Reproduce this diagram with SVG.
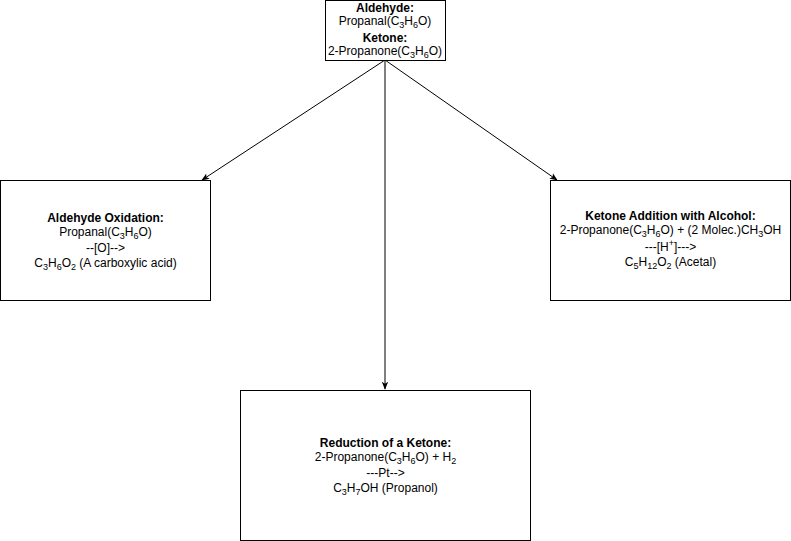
<svg xmlns="http://www.w3.org/2000/svg" width="791" height="541" viewBox="0 0 791 541">
<defs>
<style>
.box{fill:#fff;stroke:#000;stroke-width:1}
.t{font-family:"Liberation Sans",Arial,sans-serif;font-size:12px;fill:#000;text-anchor:middle}
.b{font-weight:bold}
.s{font-size:9px}
.edge{stroke:#000;stroke-width:1;fill:none}
</style>
<marker id="arr" viewBox="0 0 10 10" refX="9" refY="5" markerWidth="8" markerHeight="8" markerUnits="userSpaceOnUse" orient="auto">
<path d="M0,1 L10,5 L0,9 L2.5,5 Z" fill="#000"/>
</marker>
</defs>
<rect width="791" height="541" fill="#fff"/>
<g id="connectors">
<line class="edge" x1="385" y1="60" x2="202" y2="180" marker-end="url(#arr)"/>
<line class="edge" x1="385" y1="60" x2="385" y2="389" marker-end="url(#arr)"/>
<line class="edge" x1="385" y1="60" x2="557" y2="180" marker-end="url(#arr)"/>
</g>
<g id="top">
<rect class="box" x="325.5" y="0.5" width="120" height="60"/>
<text class="t b" x="385" y="12">Aldehyde:</text>
<text class="t" x="385" y="25">Propanal(C<tspan class="s" dy="3">3</tspan><tspan dy="-3">H</tspan><tspan class="s" dy="3">6</tspan><tspan dy="-3">O)</tspan></text>
<text class="t b" x="385" y="42">Ketone:</text>
<text class="t" x="385" y="55">2-Propanone(C<tspan class="s" dy="3">3</tspan><tspan dy="-3">H</tspan><tspan class="s" dy="3">6</tspan><tspan dy="-3">O)</tspan></text>
</g>
<g id="oxidation">
<rect class="box" x="0.5" y="180.5" width="210" height="120"/>
<text class="t b" x="105.5" y="222">Aldehyde Oxidation:</text>
<text class="t" x="105.5" y="236">Propanal(C<tspan class="s" dy="3">3</tspan><tspan dy="-3">H</tspan><tspan class="s" dy="3">6</tspan><tspan dy="-3">O)</tspan></text>
<text class="t" x="105.5" y="252">--[O]--&gt;</text>
<text class="t" x="105.5" y="267">C<tspan class="s" dy="3">3</tspan><tspan dy="-3">H</tspan><tspan class="s" dy="3">6</tspan><tspan dy="-3">O</tspan><tspan class="s" dy="3">2</tspan><tspan dy="-3"> (A carboxylic acid)</tspan></text>
</g>
<g id="addition">
<rect class="box" x="550.5" y="180.5" width="240" height="120"/>
<text class="t b" x="670.5" y="220">Ketone Addition with Alcohol:</text>
<text class="t" x="670.5" y="234">2-Propanone(C<tspan class="s" dy="3">3</tspan><tspan dy="-3">H</tspan><tspan class="s" dy="3">6</tspan><tspan dy="-3">O) + (2 Molec.)CH</tspan><tspan class="s" dy="3">3</tspan><tspan dy="-3">OH</tspan></text>
<text class="t" x="670.5" y="251">---[H<tspan class="s" dy="-5">+</tspan><tspan dy="5">]---&gt;</tspan></text>
<text class="t" x="670.5" y="266">C<tspan class="s" dy="3">5</tspan><tspan dy="-3">H</tspan><tspan class="s" dy="3">12</tspan><tspan dy="-3">O</tspan><tspan class="s" dy="3">2</tspan><tspan dy="-3"> (Acetal)</tspan></text>
</g>
<g id="reduction">
<rect class="box" x="240.5" y="390.5" width="290" height="150"/>
<text class="t b" x="385.5" y="447">Reduction of a Ketone:</text>
<text class="t" x="385.5" y="461">2-Propanone(C<tspan class="s" dy="3">3</tspan><tspan dy="-3">H</tspan><tspan class="s" dy="3">6</tspan><tspan dy="-3">O) + H</tspan><tspan class="s" dy="3">2</tspan></text>
<text class="t" x="385.5" y="477">---Pt--&gt;</text>
<text class="t" x="385.5" y="492">C<tspan class="s" dy="3">3</tspan><tspan dy="-3">H</tspan><tspan class="s" dy="3">7</tspan><tspan dy="-3">OH (Propanol)</tspan></text>
</g>
</svg>
